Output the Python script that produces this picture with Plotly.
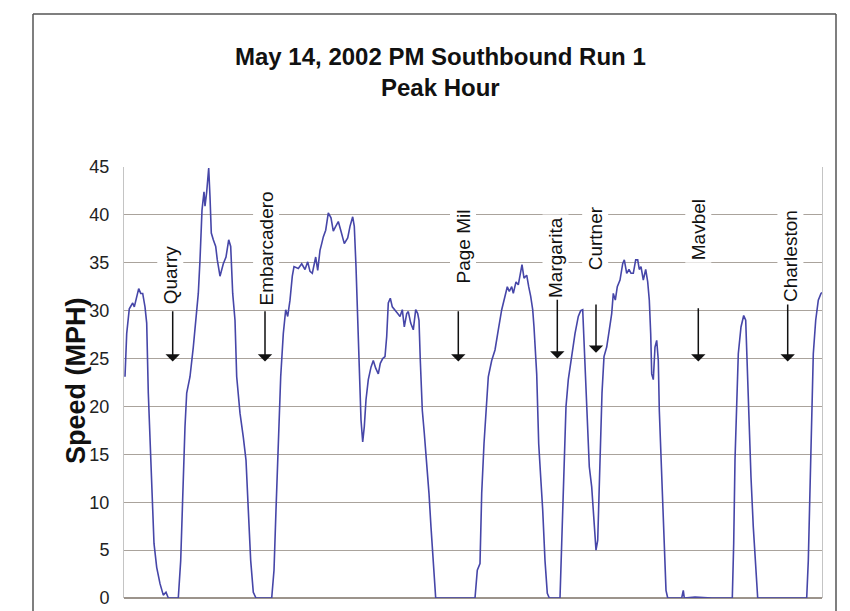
import plotly.graph_objects as go

# ---- data ----
t_index = [1.0, 2.7, 5.3, 8.7, 10.3, 12.7, 14.7, 16.7, 18.7, 21.0, 22.7, 24.3, 26.7, 28.0, 30.0, 32.7, 36.0, 39.3, 42.0, 44.3,
           54.3, 56.7, 58.7, 61.0, 62.7, 66.0, 69.3, 72.0, 74.3, 76.0, 78.0, 80.0, 81.0, 82.7, 84.7, 86.0, 87.3, 89.3, 91.7, 93.3,
           96.0, 99.3, 102.0, 104.7, 106.7, 108.7, 111.0, 112.7, 116.0, 119.3, 122.0, 124.3, 126.7, 129.3, 132.0,
           147.7, 150.0, 152.0, 154.3, 156.7, 159.3, 161.7, 163.7, 166.0, 168.3, 170.0, 174.3, 177.7, 181.0, 183.7, 186.0,
           188.3, 190.3, 191.7, 193.7, 196.0, 197.7, 199.3, 201.7, 204.3, 207.0, 209.3, 211.7, 214.3, 217.0, 220.3, 223.7,
           226.0, 228.7, 230.3, 232.0, 233.7, 235.3, 237.0, 238.7, 240.3, 242.0, 244.3, 247.0, 249.3, 251.7, 254.3, 256.3,
           258.7, 261.0, 262.7, 264.3, 266.3, 268.3, 271.0, 273.7, 276.0, 278.3, 280.3, 282.7, 284.3, 286.7, 289.3, 291.7,
           293.7, 295.0, 296.3, 298.3, 300.3, 302.7, 305.0, 307.0, 308.7, 310.3, 311.7,
           351.0, 353.3, 356.0, 357.7, 360.0, 362.0, 364.3, 367.7, 371.0, 374.3, 377.7, 381.0, 383.3, 385.3, 387.7, 389.3,
           392.0, 394.3, 396.0, 398.0, 400.0, 402.7, 404.7, 406.7, 408.7, 410.0, 412.7, 414.7, 416.7, 418.7, 421.0, 423.3, 425.3,
           436.0, 437.7, 440.0, 442.0, 444.3, 447.7, 451.0, 454.3, 456.7, 458.7, 460.3, 462.7, 465.3, 467.7, 470.0, 472.0,
           473.7, 476.0, 478.0, 480.0, 482.7, 485.3, 487.7, 489.3, 491.3, 493.3, 496.0, 498.7, 500.3, 502.7, 505.0, 507.0,
           509.3, 511.7, 513.7, 515.3, 517.0, 519.3, 521.7, 523.7, 525.3, 526.7, 527.7, 529.3, 531.0, 532.7, 534.3, 535.3,
           537.0, 538.7, 540.3, 542.0, 543.7, 557.7, 559.3, 560.3, 571.0, 587.7,
           608.3, 609.7, 611.0, 612.7, 614.3, 617.0, 619.7, 621.7, 623.0, 625.0, 627.0, 629.3, 631.7, 633.7,
           682.7, 684.3, 686.3, 687.7, 689.3, 691.7, 694.3, 697.0, 698.0]

speed_mph = [23.1, 27.6, 30.2, 30.8, 30.4, 31.5, 32.3, 31.8, 31.8, 30.4, 28.7, 21.4, 14.4, 9.7, 5.7, 3.2, 1.5, 0.3, 0.6, 0,
             0, 3.9, 10.9, 17.9, 21.4, 23.1, 26.2, 29.7, 31.8, 35.3, 40.5, 42.4, 40.9, 42.4, 44.9, 41.9, 38.1, 37.4, 36.7, 35.3,
             33.6, 34.9, 35.6, 37.4, 36.7, 31.8, 29.0, 23.1, 19.3, 16.8, 14.4, 9.2, 3.9, 0.6, 0,
             0, 2.9, 9.2, 16.1, 23.1, 27.6, 30.1, 29.4, 31.1, 33.6, 34.6, 34.4, 34.9, 34.3, 35.1, 34.1,
             33.9, 34.9, 35.6, 34.2, 36.3, 37.0, 37.7, 38.4, 40.2, 39.7, 38.3, 38.8, 39.3, 38.3, 37.0, 37.6,
             38.8, 39.8, 38.8, 34.6, 28.3, 23.1, 18.6, 16.3, 17.9, 20.7, 22.8, 24.1, 24.8, 24.0, 23.4, 24.5,
             25.0, 25.2, 27.3, 30.8, 31.3, 30.4, 30.1, 29.7, 29.4, 30.1, 28.3, 29.7, 29.9, 28.7, 28.0, 30.1,
             29.7, 29.0, 24.8, 19.6, 17.2, 14.4, 10.9, 7.4, 5.0, 2.2, 0,
             0, 2.9, 3.6, 10.9, 16.1, 20.0, 23.1, 24.8, 25.9, 28.0, 30.1, 31.5, 32.5, 32.0, 32.5, 31.8,
             33.0, 32.7, 33.9, 34.8, 33.4, 33.7, 32.5, 31.5, 30.1, 28.3, 23.4, 16.1, 12.6, 9.2, 3.9, 0.5, 0,
             0, 5.7, 14.4, 20.0, 22.8, 25.5, 27.6, 29.4, 30.0, 30.1, 26.2, 20.7, 13.7, 11.6, 8.1, 5.0,
             6.0, 14.4, 21.4, 25.2, 26.2, 28.0, 29.7, 31.8, 31.1, 32.5, 33.2, 34.9, 35.3, 33.9, 34.3, 33.9,
             33.9, 35.3, 35.3, 34.3, 34.6, 33.2, 34.3, 33.0, 31.1, 27.6, 23.4, 22.8, 26.2, 26.9, 24.8, 19.6,
             14.4, 9.2, 3.9, 0.8, 0, 0, 0.8, 0, 0.1, 0,
             0, 5.7, 14.4, 21.4, 25.5, 28.3, 29.5, 29.0, 24.8, 19.6, 12.6, 7.4, 3.9, 0,
             0, 3.9, 12.6, 19.6, 25.5, 29.0, 31.1, 31.8, 31.9]

y_ticks = [0, 5, 10, 15, 20, 25, 30, 35, 40, 45]

# landmarks (cross streets) along the run
street_names = ["Quarry", "Embarcadero", "Page Mil", "Margarita", "Curtner", "Mavbel", "Charleston"]
street_label_t = [46, 142, 339, 432, 471.5, 574, 666]
street_label_mph = [33.7, 36.5, 36.7, 35.5, 37.5, 38.4, 35.7]
street_arrow_t = [48.7, 141, 334.3, 433.3, 472, 574.3, 663.7]
street_arrow_from = [30.1, 30.1, 30.1, 31.3, 30.8, 30.4, 30.8]
street_arrow_to = [24.7, 24.7, 24.7, 25.0, 25.6, 24.7, 24.7]

FONT = "Liberation Sans, Arial, sans-serif"
W, H = 850, 611
L, R, T, B = 124, 28, 167, 13

fig = go.Figure()
fig.add_trace(go.Scatter(x=t_index, y=speed_mph, mode="lines",
                         line=dict(color="#4646a8", width=1.6), hoverinfo="skip"))

annotations = []
for name, lx, ly, axv, y0, y1 in zip(street_names, street_label_t, street_label_mph,
                                      street_arrow_t, street_arrow_from, street_arrow_to):
    annotations.append(dict(x=lx, y=ly, xref="x", yref="y", text=name, textangle=-90,
                            showarrow=False, font=dict(family=FONT, size=19, color="#111"),
                            bgcolor="white", borderpad=2, xanchor="center", yanchor="middle"))
    annotations.append(dict(x=axv, y=y1, xref="x", yref="y", ax=axv, ay=y0, axref="x", ayref="y",
                            text="", showarrow=True, arrowhead=1, arrowsize=1.6, arrowwidth=1.5,
                            arrowcolor="#111", standoff=0))

pw, ph = W - L - R, H - T - B
def px_x(p):
    return (p - L) / pw
def px_y(p):
    return (H - B - p) / ph

annotations.append(dict(x=px_x(440), y=px_y(72), xref="paper", yref="paper",
                        text="<b>May 14, 2002 PM Southbound Run 1</b><br><b>Peak Hour</b>", showarrow=False,
                        font=dict(family=FONT, size=24, color="#111"), xanchor="center", yanchor="middle"))
annotations.append(dict(x=px_x(76), y=px_y(381), xref="paper", yref="paper",
                        text="<b>Speed (MPH)</b>", textangle=-90, showarrow=False,
                        font=dict(family=FONT, size=27, color="#111"), xanchor="center", yanchor="middle"))

shapes = [
    dict(type="line", xref="paper", yref="paper", x0=px_x(33), x1=px_x(33), y0=px_y(14), y1=px_y(640),
         line=dict(color="#555", width=1.5)),
    dict(type="line", xref="paper", yref="paper", x0=px_x(33), x1=px_x(836), y0=px_y(14), y1=px_y(14),
         line=dict(color="#555", width=1.5)),
    dict(type="line", xref="paper", yref="paper", x0=px_x(836), x1=px_x(836), y0=px_y(14), y1=px_y(640),
         line=dict(color="#555", width=1.5)),
]

fig.update_layout(
    width=W, height=H, autosize=False,
    margin=dict(l=L, r=R, t=T, b=B, pad=0),
    paper_bgcolor="white", plot_bgcolor="white",
    showlegend=False,
    annotations=annotations, shapes=shapes,
    xaxis=dict(range=[0, 698], showticklabels=False, showgrid=False, zeroline=False,
               showline=False, ticks=""),
    yaxis=dict(range=[0, 45], tickvals=y_ticks, showgrid=True, gridcolor="#aaa39c", gridwidth=1.2,
               zeroline=True, zerolinecolor="#9c948c", zerolinewidth=1.5,
               showline=True, mirror=True, linecolor="#c4c4c4", linewidth=1,
               ticks="", ticklabelstandoff=10, automargin=False,
               tickfont=dict(family=FONT, size=18, color="#222")),
)

fig.write_html("out.html",
               config={"displayModeBar": False, "staticPlot": True},
               post_script="document.body.style.margin='0';document.body.style.padding='0';"
                           "document.body.style.overflow='hidden';")
